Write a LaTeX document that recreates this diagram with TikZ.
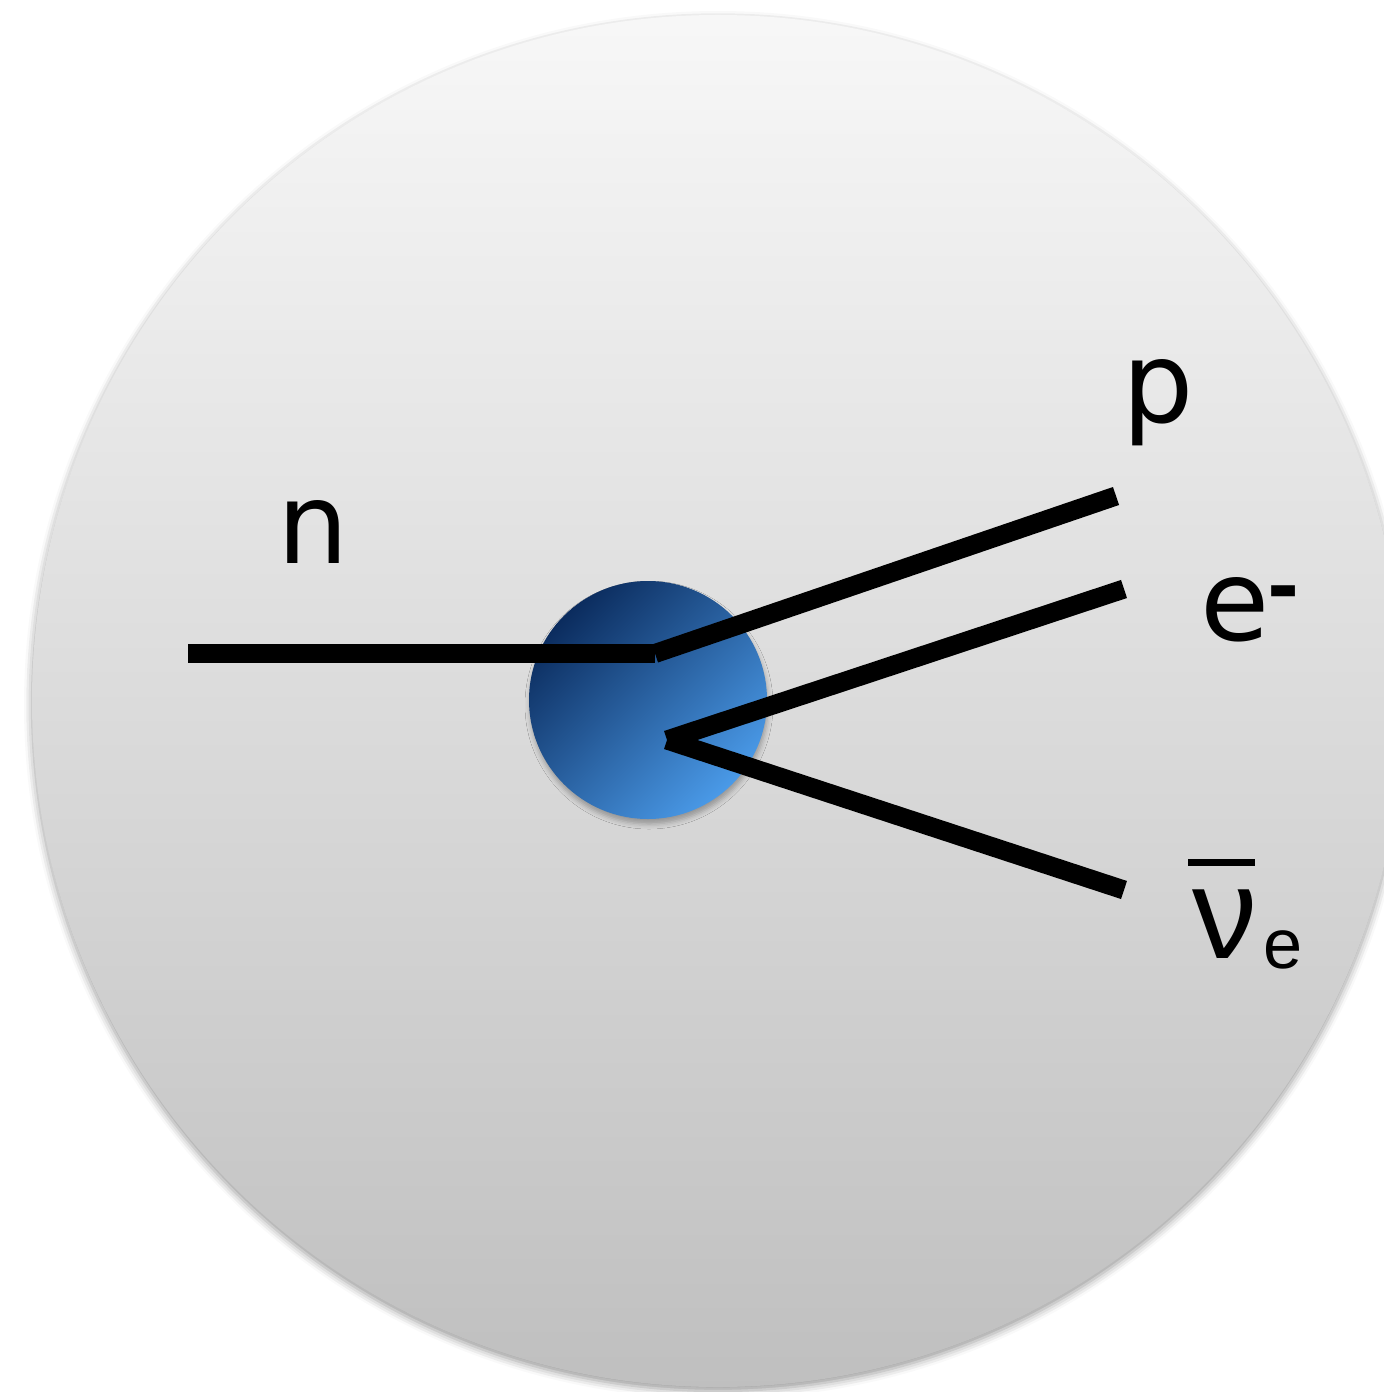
\documentclass[tikz,border=0pt]{standalone}
\usepackage{fontspec}
\setmainfont{DejaVu Sans}
\newfontfamily\nufont{Liberation Sans}
\usetikzlibrary{shadows.blur}
\definecolor{blobdark}{HTML}{0B2C5E}
\definecolor{bloblight}{HTML}{4A9AE8}
\begin{document}
\begin{tikzpicture}[x=1cm,y=1cm,>=stealth]
\tikzset{
    track/.style={line width=0.19cm,line cap=butt,black},
    partlbl/.style={inner sep=0pt,anchor=base,font=\fontsize{32}{38}\selectfont},
    soft/.style={blur shadow={shadow xshift=0pt,shadow yshift=-0.04cm,shadow blur radius=0.08cm,shadow opacity=40}},
    softer/.style={blur shadow={shadow xshift=0.01cm,shadow yshift=-0.05cm,shadow blur radius=0.05cm,shadow opacity=30}}
}
\useasboundingbox (0,0) rectangle (13.84,-13.92);
\clip (0,0) rectangle (13.84,-13.92);
\node[circle,minimum size=13.72cm,inner sep=0pt,top color=black!3,bottom color=black!25,soft] (cell) at (7.18,-7.01) {};
\node[circle,minimum size=2.38cm,inner sep=0pt,top color=blobdark,bottom color=bloblight,shading angle=45,softer] (blob) at (6.48,-7.00) {};

\coordinate (nin) at (1.88,-6.535);
\coordinate (kink) at (6.55,-6.535);
\coordinate (pout) at (11.16,-4.96);
\coordinate (fork) at (6.67,-7.40);
\coordinate (eout) at (11.24,-5.89);
\coordinate (nuout) at (11.24,-8.90);
\draw[track] (nin) -- (kink);
\draw[track] (kink) -- (pout);
\draw[track] (fork) -- (eout);
\draw[track] (fork) -- (nuout);

\node[partlbl] (neutron) at (3.13,-5.63) {n};
\node[partlbl] (proton) at (11.58,-4.22) {p};
\node[partlbl,anchor=base west] (electron) at (12.00,-6.40) {e\kern-0.02cm\raisebox{0.27cm}{\fontsize{22}{24}\selectfont\bfseries -}};
\node[inner sep=0pt,anchor=base west,font=\fontsize{37}{44}\selectfont] (antinu) at (11.92,-9.58) {\nufont ν\kern0.06cm\raisebox{-0.10cm}{\fontsize{20}{24}\selectfont e}};
\draw[line width=0.07cm] ([xshift=-0.04cm,yshift=0.96cm]antinu.base west) -- ++(0.67,0);
\end{tikzpicture}
\end{document}
